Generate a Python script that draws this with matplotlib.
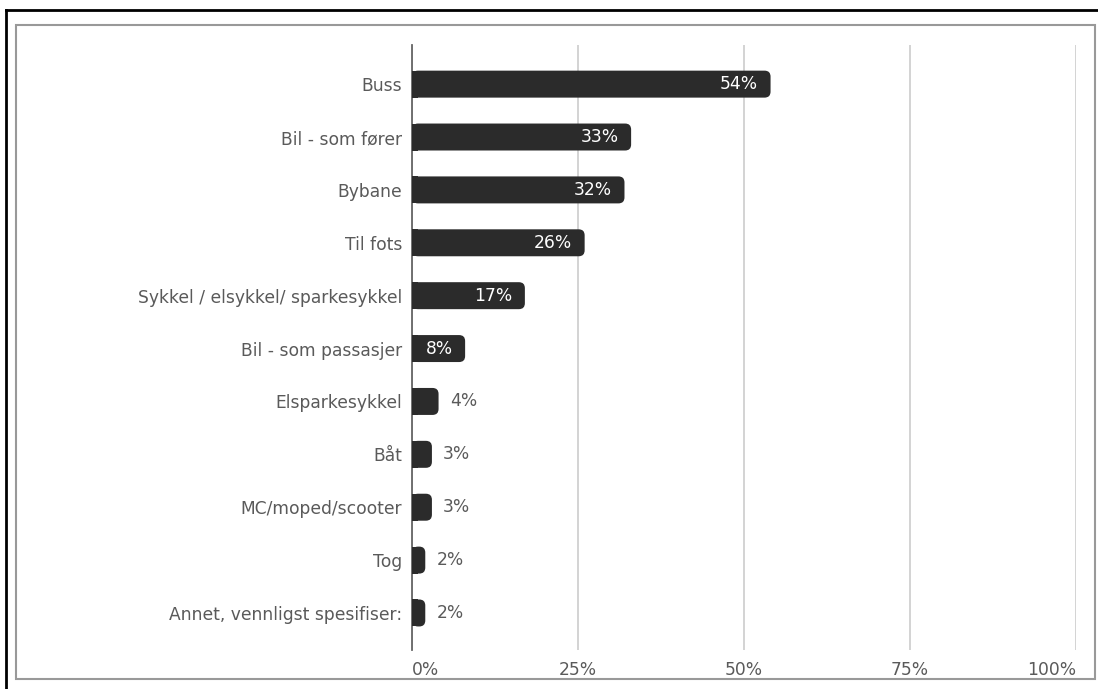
import matplotlib
matplotlib.use("Agg")
import matplotlib.pyplot as plt
import matplotlib.transforms as mtransforms
from matplotlib.patches import FancyBboxPatch, Rectangle

categories = ["Buss", "Bil - som fører", "Bybane", "Til fots",
              "Sykkel / elsykkel/ sparkesykkel", "Bil - som passasjer",
              "Elsparkesykkel", "Båt", "MC/moped/scooter", "Tog",
              "Annet, vennligst spesifiser:"]
values = [54, 33, 32, 26, 17, 8, 4, 3, 3, 2, 2]
ticks = [0, 25, 50, 75, 100]
tick_labels = ["0%", "25%", "50%", "75%", "100%"]

plt.rcParams['font.family'] = ['DejaVu Sans']

W, H = 1098, 689
fig = plt.figure(figsize=(W / 100, H / 100), dpi=100)
ax = fig.add_axes([412 / W, 1 - 650 / H, (1076 - 412) / W, (650 - 45) / H])

bar_color = "#2b2b2b"
text_color = "#5a5a5a"
fs = 12.3
bar_h = 0.51
ax.set_xlim(0, 100)
ax.set_ylim(10.70, -0.74)

# px per data unit
px_x = (1076 - 412) / 100
px_y = (650 - 45) / (10.70 + 0.74)
radius_px = 6
r_x = radius_px / px_x
aspect = (radius_px / px_y) / r_x

bars = ax.barh(range(len(values)), values, height=bar_h, color="none")
for b, v in zip(bars, values):
    x0, y0 = b.get_x(), b.get_y()
    w, h = b.get_width(), b.get_height()
    ax.add_patch(FancyBboxPatch((x0, y0), w, h,
                                boxstyle=f"round,pad=0,rounding_size={r_x}",
                                mutation_aspect=aspect, fc=bar_color, ec="none",
                                zorder=3))
    ax.add_patch(Rectangle((x0, y0), min(w, r_x), h, fc=bar_color, ec="none",
                           zorder=3))
    yc = y0 + h / 2
    if v >= 8:
        ax.annotate(f"{v}%", (v, yc), xytext=(-9, 0), textcoords="offset points",
                    ha="right", va="center", color="white", fontsize=fs,
                    zorder=4)
    else:
        ax.annotate(f"{v}%", (v, yc), xytext=(8, 0), textcoords="offset points",
                    ha="left", va="center", color=text_color, fontsize=fs,
                    zorder=4)

ax.set_yticks(range(len(categories)))
ax.set_yticklabels(categories, fontsize=fs, color=text_color)
ax.set_xticks(ticks)
xl = ax.set_xticklabels(tick_labels, fontsize=fs, color=text_color)
xl[0].set_ha("left")
xl[0].set_transform(xl[0].get_transform() +
                    mtransforms.ScaledTranslation(-3 / 100, 0, fig.dpi_scale_trans))
xl[-1].set_ha("right")
xl[-1].set_transform(xl[-1].get_transform() +
                     mtransforms.ScaledTranslation(5 / 100, 0, fig.dpi_scale_trans))
ax.tick_params(axis="both", length=0)
ax.tick_params(axis="y", pad=7)
ax.tick_params(axis="x", pad=8)
ax.grid(axis="x", color="#cccccc", linewidth=1.2, zorder=0)
ax.set_axisbelow(True)
for s in ["top", "right", "bottom"]:
    ax.spines[s].set_visible(False)
ax.spines["left"].set_color("#666666")
ax.spines["left"].set_linewidth(1.3)

# frame lines around the screenshot
fig.add_artist(plt.Line2D([6 / W, 1], [1 - 10 / H, 1 - 10 / H], color="black", lw=2))
fig.add_artist(plt.Line2D([6 / W, 6 / W], [0, 1 - 10 / H], color="black", lw=2))
fig.add_artist(Rectangle((16 / W, 1 - 679 / H), (1095 - 16) / W, (679 - 25) / H,
                         transform=fig.transFigure, fill=False, ec="#999999", lw=1.5))

fig.savefig("out.png", dpi=100)
